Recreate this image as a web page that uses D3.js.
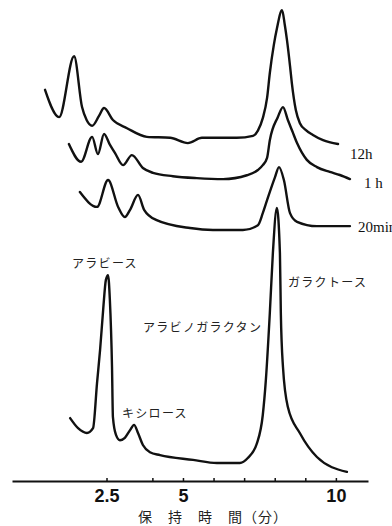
<!DOCTYPE html>
<html>
<head>
<meta charset="utf-8">
<script src="https://cdn.jsdelivr.net/npm/d3@7/dist/d3.min.js"></script>
<style>
  html, body { margin: 0; padding: 0; background: #fff; }
  svg { display: block; }
</style>
</head>
<body>
<svg id="chart" width="392" height="526"></svg>
<script>
// Retention time (min) vs detector signal, one trace per hydrolysis time.
const traceLabels = ["12h", "1 h", "20min", ""];
const traceOffsets = [70, 60, 50, 0];

const trace12h = [
  [0.49, 11.5], [0.95, 5.8], [1.44, 18.5], [1.70, 7.9], [1.85, 5.2], [2.03, 4.0],
  [2.25, 6.0], [2.42, 7.7], [2.71, 5.2], [3.17, 3.5], [3.82, 1.7], [4.58, 1.5],
  [5.16, 0.4], [5.62, 1.5], [6.76, 1.5], [7.29, 1.9], [7.45, 3.0], [7.61, 5.6],
  [7.75, 9.8], [7.84, 15.0], [7.97, 20.8], [8.07, 24.2], [8.24, 28.1],
  [8.33, 25.0], [8.40, 21.9], [8.50, 16.5], [8.56, 12.9], [8.69, 7.3], [8.82, 4.6],
  [9.02, 3.1], [9.25, 2.1], [9.58, 1.0], [10.07, 0.2]
];

const trace1h = [
  [1.27, 10.2], [1.67, 6.5], [2.03, 11.7], [2.22, 8.1], [2.42, 12.3], [2.60, 10.2],
  [2.78, 8.3], [3.04, 5.8], [3.33, 7.9], [3.69, 5.2], [4.02, 4.2], [4.67, 3.5],
  [5.45, 3.1], [6.31, 2.9], [7.09, 3.7], [7.45, 4.8], [7.61, 5.8], [7.75, 7.3],
  [7.84, 11.0], [8.10, 15.8], [8.27, 17.9], [8.43, 15.2], [8.58, 12.8], [8.73, 10.4],
  [9.05, 6.9], [9.38, 5.4], [9.80, 4.4], [10.13, 3.75], [10.46, 2.9]
];

const trace20min = [
  [1.63, 10.2], [2.19, 7.1], [2.55, 12.7], [2.88, 7.1], [3.10, 5.0], [3.27, 6.5],
  [3.53, 9.6], [3.73, 6.5], [4.12, 4.4], [5.23, 2.7], [5.98, 2.3], [6.96, 2.3],
  [7.45, 3.3], [7.61, 5.8], [7.75, 8.5], [8.01, 13.3], [8.14, 15.4], [8.30, 12.7],
  [8.50, 5.8], [8.73, 4.0], [9.38, 3.1], [10.46, 3.1]
];

const traceStandard = [
  [1.31, 13.1], [1.57, 11.0], [1.86, 10.0], [2.06, 11.0], [2.19, 20.4], [2.29, 27.3],
  [2.39, 35.6], [2.48, 41.9], [2.55, 42.9], [2.61, 37.7], [2.68, 23.75], [2.71, 13.3],
  [2.81, 9.6], [2.94, 8.5], [3.10, 9.0], [3.27, 10.6], [3.40, 11.7], [3.53, 10.0],
  [3.69, 7.5], [3.92, 6.0], [4.25, 5.4], [5.33, 4.4], [6.11, 3.75], [6.86, 3.75],
  [7.12, 4.8], [7.42, 7.9], [7.61, 13.75], [7.71, 21.0], [7.84, 35.0], [7.94, 47.5],
  [8.07, 56.9], [8.17, 47.5], [8.20, 35.0], [8.27, 23.75], [8.43, 15.4], [8.82, 10.0],
  [9.38, 5.0], [10.36, 1.9]
];

const traces = [trace12h, trace1h, trace20min, traceStandard];

const tickValues = [2.5, 4, 5, 6, 7, 8, 9, 10];
const tickLabels = ["2.5", "", "5", "", "", "", "", "10"];
const axisTitle = "保　持　時　間（分）";

const peakNames = ["アラビース", "キシロース", "アラビノガラクタン", "ガラクトース"];

const svg = d3.select("#chart");

const x = d3.scaleLinear().domain([-0.59, 11.05]).range([12, 368]);
const y = d3.scaleLinear().domain([0, 100]).range([481, 1]);

const line = d3.line()
  .x(d => x(d[0]))
  .y(d => y(d[1]))
  .curve(d3.curveMonotoneX);

// traces, each lifted by its own offset
svg.append("g")
  .selectAll("path")
  .data(traces.map((t, i) => t.map(p => [p[0], p[1] + traceOffsets[i]])))
  .join("path")
  .attr("d", line)
  .attr("fill", "none")
  .attr("stroke", "#111")
  .attr("stroke-width", 2.4)
  .attr("stroke-linejoin", "round")
  .attr("stroke-linecap", "round");

// x axis with short upward ticks
const axis = d3.axisBottom(x)
  .tickValues(tickValues)
  .tickFormat((d, i) => tickLabels[i])
  .tickSizeInner(-3)
  .tickSizeOuter(0)
  .tickPadding(8);

const gAxis = svg.append("g")
  .attr("transform", `translate(0,${y(0)})`)
  .call(axis);
gAxis.select(".domain").attr("stroke", "#111").attr("stroke-width", 2);
gAxis.selectAll(".tick line").attr("stroke", "#111").attr("stroke-width", 1.5);
gAxis.selectAll(".tick text")
  .attr("fill", "#111")
  .style("font-family", "'Liberation Sans', Arial, sans-serif")
  .style("font-weight", "bold")
  .style("font-size", "18px");

svg.append("text")
  .attr("x", 138).attr("y", 522)
  .attr("fill", "#222")
  .style("font-family", "'Noto Sans CJK JP', sans-serif")
  .style("font-size", "14px")
  .style("letter-spacing", "1px")
  .text(axisTitle);

// trace labels at the right end
const labelPos = [[350, 159], [364, 188], [358, 232]];
svg.append("g")
  .selectAll("text")
  .data(traceLabels.slice(0, 3))
  .join("text")
  .attr("x", (d, i) => labelPos[i][0])
  .attr("y", (d, i) => labelPos[i][1])
  .attr("fill", "#111")
  .style("font-family", "'Liberation Serif', 'Times New Roman', serif")
  .style("font-size", "15px")
  .text(d => d);

// peak names
const namePos = [[72, 268], [122, 418], [143, 332], [288, 287]];
svg.append("g")
  .selectAll("text")
  .data(peakNames)
  .join("text")
  .attr("x", (d, i) => namePos[i][0])
  .attr("y", (d, i) => namePos[i][1])
  .attr("fill", "#222")
  .style("font-family", "'Noto Sans CJK JP', sans-serif")
  .style("font-size", "12px")
  .style("letter-spacing", "1.3px")
  .text(d => d);
</script>
</body>
</html>
